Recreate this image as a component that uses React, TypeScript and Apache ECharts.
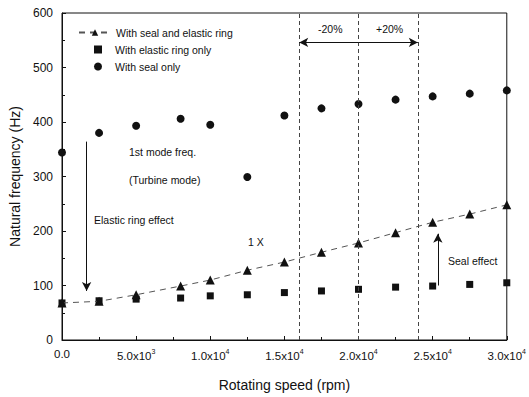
import React, { useEffect, useRef } from "react";
import * as echarts from "echarts";

const speeds = [0, 2500, 5000, 8000, 10000, 12500, 15000, 17500, 20000, 22500, 25000, 27500, 30000];
const sealAndRing = [68, 71, 83, 99, 110, 128, 143, 161, 178, 197, 216, 231, 248];
const ringOnly = [68, 72, 75, 77, 81, 83, 87, 90, 93, 97, 99, 102, 105];
const sealOnly = [344, 380, 393, 406, 395, 299, 412, 425, 433, 441, 447, 452, 458];
const rangeLines = [16000, 20000, 24000];
const xTickLabels: Record<number, string> = {
  0: "{n|0.0}",
  5000: "{n|5.0x10}{s|3}",
  10000: "{n|1.0x10}{s|4}",
  15000: "{n|1.5x10}{s|4}",
  20000: "{n|2.0x10}{s|4}",
  25000: "{n|2.5x10}{s|4}",
  30000: "{n|3.0x10}{s|4}",
};

const FONT = "Liberation Sans, Arial, sans-serif";
const INK = "#111";

export default function App() {
  const ref = useRef<HTMLDivElement>(null);
  useEffect(() => {
    if (!ref.current) return;
    const chart = echarts.init(ref.current, undefined, { renderer: "svg" });
    const pair = (ys: number[]) => speeds.map((x, i) => [x, ys[i]]);
    const legendText = { fontSize: 10.5, color: INK, fontFamily: FONT };
    chart.setOption({
      animation: false,
      textStyle: { fontFamily: FONT, color: INK },
      grid: { left: 62, right: 21, top: 13, bottom: 53, show: true, borderColor: INK, borderWidth: 1 },
      legend: [
        {
          orient: "vertical",
          left: 73,
          top: 22,
          itemWidth: 32,
          itemHeight: 8,
          textStyle: legendText,
          data: ["With seal and elastic ring"],
        },
        {
          orient: "vertical",
          left: 89,
          top: 39,
          itemGap: 6,
          itemWidth: 8,
          itemHeight: 8,
          textStyle: { ...legendText, padding: [0, 0, 0, 8] },
          data: ["With elastic ring only", "With seal only"],
        },
      ],
      xAxis: {
        type: "value",
        min: 0,
        max: 30000,
        interval: 5000,
        name: "Rotating speed (rpm)",
        nameLocation: "middle",
        nameGap: 38,
        nameTextStyle: { fontSize: 14, color: INK, fontFamily: FONT },
        axisLine: { lineStyle: { color: INK } },
        axisTick: { inside: true, length: 4, lineStyle: { color: INK } },
        minorTick: { show: true, splitNumber: 2, length: 3, lineStyle: { color: INK } },
        splitLine: { show: false },
        axisLabel: {
          margin: 8,
          color: INK,
          formatter: (v: number) => xTickLabels[v] ?? "",
          rich: {
            n: { fontSize: 11.5, fontFamily: FONT, color: INK },
            s: { fontSize: 7, fontFamily: FONT, color: INK, verticalAlign: "bottom", padding: [0, 0, 8, 0] },
          },
        },
      },
      yAxis: {
        type: "value",
        min: 0,
        max: 600,
        interval: 100,
        name: "Natural frequency (Hz)",
        nameLocation: "middle",
        nameGap: 40,
        nameTextStyle: { fontSize: 14, color: INK, fontFamily: FONT },
        axisLine: { show: true, lineStyle: { color: INK } },
        axisTick: { show: true, inside: true, length: 4, lineStyle: { color: INK } },
        minorTick: { show: true, splitNumber: 2, length: 3, lineStyle: { color: INK } },
        splitLine: { show: false },
        axisLabel: { fontSize: 12, color: INK, margin: 9 },
      },
      series: [
        {
          name: "With seal and elastic ring",
          type: "line",
          data: pair(sealAndRing),
          symbol: "triangle",
          symbolSize: 9,
          itemStyle: { color: INK, opacity: 1 },
          lineStyle: { color: "#555", width: 1, type: [6, 5] },
          markLine: {
            silent: true,
            symbol: ["none", "none"],
            label: { show: false },
            lineStyle: { color: "#444", width: 1, type: [4, 3] },
            data: rangeLines.map((x) => ({ xAxis: x })),
          },
        },
        {
          name: "With elastic ring only",
          type: "scatter",
          data: pair(ringOnly),
          symbol: "rect",
          symbolSize: 7,
          itemStyle: { color: INK, opacity: 1 },
        },
        {
          name: "With seal only",
          type: "scatter",
          data: pair(sealOnly),
          symbol: "circle",
          symbolSize: 8,
          itemStyle: { color: INK, opacity: 1 },
          markLine: {
            silent: true,
            label: { show: false },
            symbolSize: [7, 9],
            lineStyle: { color: INK, width: 1, type: "solid" },
            data: [
              [{ coord: [20000, 546], symbol: "none" }, { coord: [16000, 546], symbol: "arrow" }],
              [{ coord: [20000, 546], symbol: "none" }, { coord: [24000, 546], symbol: "arrow" }],
              [{ coord: [1660, 364], symbol: "none" }, { coord: [1660, 90], symbol: "arrow" }],
              [{ coord: [25350, 100], symbol: "none" }, { coord: [25350, 195], symbol: "arrow" }],
            ],
          },
        },
      ],
      graphic: [
        { type: "text", left: 318, top: 23, style: { text: "-20%", fontSize: 10.5, fontFamily: FONT, fill: INK } },
        { type: "text", left: 376, top: 23, style: { text: "+20%", fontSize: 10.5, fontFamily: FONT, fill: INK } },
        { type: "text", left: 129, top: 146, style: { text: "1st mode freq.", fontSize: 10.5, fontFamily: FONT, fill: INK } },
        { type: "text", left: 129, top: 174, style: { text: "(Turbine mode)", fontSize: 10.5, fontFamily: FONT, fill: INK } },
        { type: "text", left: 94, top: 214, style: { text: "Elastic ring effect", fontSize: 10.5, fontFamily: FONT, fill: INK } },
        { type: "text", left: 248, top: 236, style: { text: "1 X", fontSize: 10.5, fontFamily: FONT, fill: INK } },
        { type: "text", left: 448, top: 255, style: { text: "Seal effect", fontSize: 10.5, fontFamily: FONT, fill: INK } },
      ],
    });
    return () => chart.dispose();
  }, []);
  return <div ref={ref} style={{ position: "fixed", left: 0, top: 0, width: 529, height: 397, background: "#fff" }} />;
}
